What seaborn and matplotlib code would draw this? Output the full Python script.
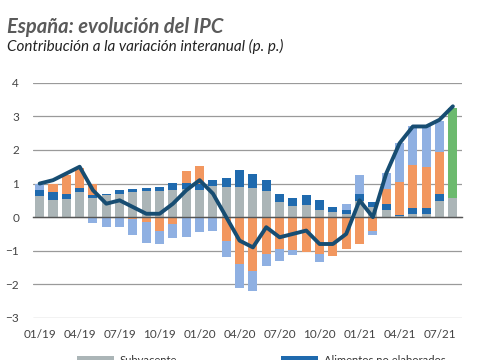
import numpy as np
import seaborn as sns
import matplotlib.pyplot as plt

meses = ["01/19", "02/19", "03/19", "04/19", "05/19", "06/19", "07/19", "08/19",
         "09/19", "10/19", "11/19", "12/19", "01/20", "02/20", "03/20", "04/20",
         "05/20", "06/20", "07/20", "08/20", "09/20", "10/20", "11/20", "12/20",
         "01/21", "02/21", "03/21", "04/21", "05/21", "06/21", "07/21", "08/21"]

subyacente = [0.62, 0.52, 0.55, 0.75, 0.58, 0.66, 0.68, 0.75, 0.78, 0.78, 0.82, 0.85,
              0.82, 0.92, 0.90, 0.90, 0.88, 0.78, 0.45, 0.32, 0.35, 0.20, 0.15, 0.10,
              0.48, 0.30, 0.20, 0.02, 0.10, 0.10, 0.48, 0.58]
alimentos = [0.18, 0.23, 0.13, 0.13, 0.07, 0.04, 0.12, 0.10, 0.08, 0.12, 0.20, 0.17,
             0.16, 0.20, 0.26, 0.50, 0.39, 0.32, 0.23, 0.26, 0.30, 0.30, 0.15, 0.10,
             0.22, 0.15, 0.20, 0.03, 0.18, 0.18, 0.20, 0.00]
electricidad = [0.00, 0.23, 0.57, 0.57, 0.33, 0.00, 0.00, -0.05, -0.15, -0.40, -0.20, 0.36,
                0.54, 0.00, -0.70, -1.40, -1.60, -1.10, -0.95, -0.98, -1.05, -1.10, -1.15, -0.95,
                -0.80, -0.40, 0.45, 1.00, 1.27, 1.22, 1.27, 0.00]
combustibles = [0.18, 0.00, 0.00, 0.00, -0.18, -0.30, -0.28, -0.47, -0.63, -0.40, -0.42, -0.60,
                -0.45, -0.42, -0.48, -0.70, -0.60, -0.35, -0.37, -0.14, 0.00, -0.25, 0.00, 0.20,
                0.55, -0.12, 0.45, 1.15, 1.15, 1.20, 0.90, 0.00]
adelantado = [0.0] * 31 + [2.67]
ipc = [1.0, 1.1, 1.3, 1.5, 0.8, 0.4, 0.5, 0.3, 0.1, 0.1, 0.4, 0.8,
       1.1, 0.7, 0.0, -0.7, -0.9, -0.3, -0.6, -0.5, -0.4, -0.8, -0.8, -0.5,
       0.5, 0.0, 1.3, 2.2, 2.7, 2.7, 2.9, 3.3]

sns.set_theme(style="white")
plt.rcParams["font.family"] = ["Lato", "DejaVu Sans"]

fig = plt.figure(figsize=(4.85, 3.6), dpi=100)
ax = fig.add_axes([0.068, 0.117, 0.885, 0.653])

x = np.arange(len(meses))
componentes = [
    ("Subyacente", subyacente, "#abb5b7"),
    ("Alimentos no elaborados", alimentos, "#1f6aae"),
    ("Electricidad", electricidad, "#f2975f"),
    ("Combustibles", combustibles, "#8fb0e2"),
    ("Indicador adelantado", adelantado, "#6cba6e"),
]

arriba = np.zeros(len(x))
abajo = np.zeros(len(x))
barras = {}
for nombre, valores, color in componentes:
    v = np.array(valores)
    base = np.where(v >= 0, arriba, abajo)
    barras[nombre] = ax.bar(x, v, bottom=base, width=0.68, color=color,
                            linewidth=0, label=nombre, zorder=2)
    arriba += np.clip(v, 0, None)
    abajo += np.clip(v, None, 0)

sns.lineplot(x=x, y=ipc, ax=ax, color="#174d72", linewidth=2.8,
             label="IPC general", zorder=4)
linea = ax.get_lines()[-1]
linea.set_solid_joinstyle("round")
linea.set_solid_capstyle("round")
ax.get_legend().remove()

ax.set_ylim(-3, 4)
ax.set_xlim(-0.5, 31.7)
ax.set_yticks(range(-3, 5))
ax.yaxis.grid(True, color="#9a9a9a", linewidth=0.9, zorder=0)
ax.tick_params(axis="y", length=0, labelsize=8.5, labelcolor="#444444", pad=10)

for lado in ["left", "right", "top"]:
    ax.spines[lado].set_visible(False)
ax.spines["bottom"].set_position(("data", 0))
ax.spines["bottom"].set_color("#555555")
ax.spines["bottom"].set_linewidth(1.0)
ax.spines["bottom"].set_zorder(3)
ax.set_xticks(np.arange(-0.5, 31, 3), minor=True)
ax.set_xticks([])
ax.tick_params(axis="x", which="minor", direction="out", length=3,
               width=0.9, color="#555555")

sec = ax.secondary_xaxis(0)
sec.set_xticks(x[::3])
sec.set_xticklabels(meses[::3])
sec.tick_params(length=0, labelsize=8.5, labelcolor="#444444", pad=8)
sec.spines["bottom"].set_visible(False)

fig.text(0.014, 0.925, "España: evolución del IPC", fontsize=14.5,
         fontweight="bold", fontstyle="italic", color="#5a5a5a", va="center")
fig.text(0.014, 0.87, "Contribución a la variación interanual (p. p.)",
         fontsize=11, fontstyle="italic", color="#222222", va="center")

orden = ["Subyacente", "Combustibles", "Electricidad",
         "Alimentos no elaborados", "Indicador adelantado"]
handles = [barras[n] for n in orden] + [linea]
labels = orden + ["IPC general"]
fig.legend(handles, labels, ncol=2, loc="upper left",
           bbox_to_anchor=(0.159, 0.013), frameon=False, fontsize=8,
           handlelength=3.3, handleheight=1.0, handletextpad=0.5,
           columnspacing=8.6, borderpad=0, borderaxespad=0, labelcolor="#333333")

fig.savefig("out.png", dpi=100)
